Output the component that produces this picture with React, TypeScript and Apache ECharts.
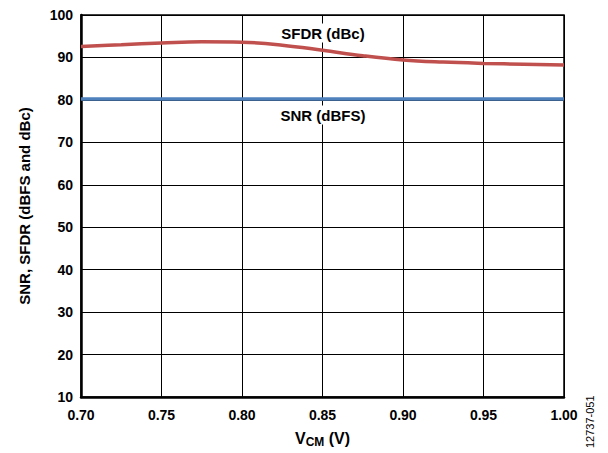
import React, { useEffect, useRef } from "react";
import * as echarts from "echarts";

const xValues = [0.70, 0.725, 0.75, 0.775, 0.80, 0.825, 0.85, 0.875, 0.90, 0.925, 0.95, 0.975, 1.00];
const sfdr = [92.6, 93.0, 93.4, 93.7, 93.6, 92.9, 91.7, 90.4, 89.4, 88.9, 88.6, 88.4, 88.2];
const snr = [80.2, 80.2, 80.2, 80.2, 80.2, 80.2, 80.2, 80.2, 80.2, 80.2, 80.2, 80.2, 80.2];
const xTicks = [0.7, 0.75, 0.8, 0.85, 0.9, 0.95, 1.0];
const yTicks = [10, 20, 30, 40, 50, 60, 70, 80, 90, 100];

const FONT = "Liberation Sans, Arial, sans-serif";

export default function App() {
  const ref = useRef<HTMLDivElement>(null);
  useEffect(() => {
    if (!ref.current) return;
    const chart = echarts.init(ref.current, null, { renderer: "svg" });
    chart.setOption({
      animation: false,
      backgroundColor: "#ffffff",
      grid: { left: 81, top: 15, width: 483, height: 384, show: true, borderColor: "#000", borderWidth: 1.5 },
      xAxis: {
        type: "value",
        min: xTicks[0],
        max: xTicks[xTicks.length - 1],
        interval: 0.05,
        axisLine: { show: true, onZero: false, lineStyle: { color: "#000", width: 2.5 } },
        axisTick: { show: false },
        splitLine: { show: true, lineStyle: { color: "#000", width: 1 } },
        axisLabel: {
          color: "#000", fontFamily: FONT, fontWeight: "bold", fontSize: 14, margin: 11,
          formatter: (v: number) => v.toFixed(2),
        },
        name: "{v|V}{s|CM}{v| (V)}",
        nameLocation: "middle",
        nameGap: 32,
        nameTextStyle: {
          rich: {
            v: { fontFamily: FONT, fontWeight: "bold", fontSize: 16, color: "#000" },
            s: { fontFamily: FONT, fontWeight: "bold", fontSize: 12, color: "#000", padding: [7, 0, 0, 0] },
          },
        },
      },
      yAxis: {
        type: "value",
        min: yTicks[0],
        max: yTicks[yTicks.length - 1],
        interval: 10,
        axisLine: { show: true, onZero: false, lineStyle: { color: "#000", width: 2.5 } },
        axisTick: { show: false },
        splitLine: { show: true, lineStyle: { color: "#000", width: 1 } },
        axisLabel: { color: "#000", fontFamily: FONT, fontWeight: "bold", fontSize: 14, margin: 8 },
        name: "SNR, SFDR (dBFS and dBc)",
        nameLocation: "middle",
        nameGap: 49,
        nameTextStyle: { color: "#000", fontFamily: FONT, fontWeight: "bold", fontSize: 15 },
      },
      series: [
        {
          type: "line",
          name: "SNR (dBFS)",
          data: xValues.map((x, i) => [x, snr[i]]),
          showSymbol: false,
          lineStyle: { color: "#4f81bd", width: 3.5 },
          z: 3,
        },
        {
          type: "line",
          name: "SFDR (dBc)",
          data: xValues.map((x, i) => [x, sfdr[i]]),
          smooth: 0.4,
          showSymbol: false,
          lineStyle: { color: "#c0504d", width: 3.5 },
          z: 3,
        },
      ],
      graphic: [
        {
          type: "text", x: 323, y: 33, z: 10,
          style: { text: "SFDR (dBc)", fill: "#000", font: `bold 15px ${FONT}`, align: "center", verticalAlign: "middle", backgroundColor: "#fff", padding: [2, 3] },
        },
        {
          type: "text", x: 323, y: 115, z: 10,
          style: { text: "SNR (dBFS)", fill: "#000", font: `bold 15px ${FONT}`, align: "center", verticalAlign: "middle", backgroundColor: "#fff", padding: [2, 3] },
        },
        {
          type: "text", x: 584, y: 448, rotation: Math.PI / 2, z: 10,
          style: { text: "12737-051", fill: "#000", font: `11px ${FONT}`, align: "left", verticalAlign: "top" },
        },
      ],
    });
    return () => chart.dispose();
  }, []);
  return <div ref={ref} style={{ position: "absolute", left: 0, top: 0, width: 608, height: 453 }} />;
}
